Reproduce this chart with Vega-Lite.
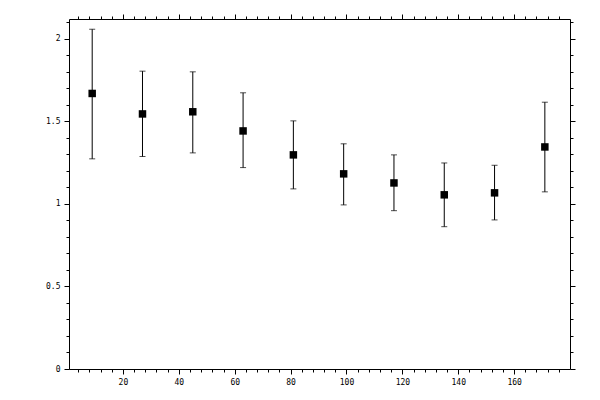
{
  "$schema": "https://vega.github.io/schema/vega-lite/v6.json",
  "width": 501,
  "height": 350,
  "autosize": "none",
  "padding": {"left": 69, "top": 19, "right": 30, "bottom": 31},
  "background": "white",
  "config": {
    "view": {"stroke": null},
    "axis": {
      "domainColor": "black",
      "domainWidth": 1,
      "tickColor": "black",
      "tickWidth": 1,
      "labelColor": "black",
      "labelFont": "DejaVu Sans Mono",
      "labelFontSize": 8,
      "labelOverlap": false,
      "labelFlush": false,
      "grid": false,
      "title": null
    }
  },
  "data": {
    "values": [
      {"x": 9, "y": 1.669, "lo": 1.273, "hi": 2.058},
      {"x": 27, "y": 1.545, "lo": 1.287, "hi": 1.804},
      {"x": 45, "y": 1.558, "lo": 1.309, "hi": 1.8},
      {"x": 63, "y": 1.442, "lo": 1.22, "hi": 1.673},
      {"x": 81, "y": 1.297, "lo": 1.091, "hi": 1.503},
      {"x": 99, "y": 1.182, "lo": 0.994, "hi": 1.364},
      {"x": 117, "y": 1.127, "lo": 0.959, "hi": 1.297},
      {"x": 135, "y": 1.055, "lo": 0.862, "hi": 1.248},
      {"x": 153, "y": 1.067, "lo": 0.903, "hi": 1.234},
      {"x": 171, "y": 1.345, "lo": 1.073, "hi": 1.616}
    ]
  },
  "layer": [
    {
      "mark": {"type": "rule", "color": "black", "strokeWidth": 1},
      "encoding": {
        "x": {
          "field": "x", "type": "quantitative",
          "scale": {"domain": [0.7, 180], "nice": false, "zero": false},
          "axis": {
            "orient": "bottom",
            "values": [4,8,12,16,20,24,28,32,36,40,44,48,52,56,60,64,68,72,76,80,84,88,92,96,100,104,108,112,116,120,124,128,132,136,140,144,148,152,156,160,164,168,172,176],
            "labelExpr": "datum.value % 20 == 0 ? format(datum.value, 'd') : ''",
            "tickSize": {"condition": {"test": "datum.value % 20 == 0", "value": 5}, "value": 3},
            "labelPadding": 4
          }
        },
        "y": {
          "field": "lo", "type": "quantitative",
          "scale": {"domain": [0, 2.12], "nice": false, "zero": false},
          "axis": {
            "orient": "left",
            "values": [0,0.1,0.2,0.3,0.4,0.5,0.6,0.7,0.8,0.9,1,1.1,1.2,1.3,1.4,1.5,1.6,1.7,1.8,1.9,2,2.1],
            "labelExpr": "abs(round(datum.value*10)) % 5 == 0 ? format(datum.value, '~g') : ''",
            "tickSize": {"condition": {"test": "abs(round(datum.value*10)) % 5 == 0", "value": 5}, "value": 3},
            "labelPadding": 4
          }
        },
        "y2": {"field": "hi"}
      }
    },
    {
      "mark": {"type": "tick", "orient": "horizontal", "size": 6, "thickness": 1, "color": "black"},
      "encoding": {
        "x": {"field": "x", "type": "quantitative", "axis": null},
        "y": {"field": "hi", "type": "quantitative", "axis": null}
      }
    },
    {
      "mark": {"type": "tick", "orient": "horizontal", "size": 6, "thickness": 1, "color": "black"},
      "encoding": {
        "x": {"field": "x", "type": "quantitative", "axis": null},
        "y": {"field": "lo", "type": "quantitative", "axis": null}
      }
    },
    {
      "mark": {"type": "point", "shape": "square", "filled": true, "size": 56, "color": "black", "opacity": 1},
      "encoding": {
        "x": {"field": "x", "type": "quantitative", "axis": null},
        "y": {"field": "y", "type": "quantitative", "axis": null}
      }
    },
    {
      "mark": {"type": "point", "opacity": 0},
      "encoding": {
        "x": {
          "field": "x", "type": "quantitative",
          "axis": {
            "orient": "top",
            "labels": false,
            "values": [4,8,12,16,20,24,28,32,36,40,44,48,52,56,60,64,68,72,76,80,84,88,92,96,100,104,108,112,116,120,124,128,132,136,140,144,148,152,156,160,164,168,172,176],
            "tickSize": {"condition": {"test": "datum.value % 20 == 0", "value": 5}, "value": 3}
          }
        },
        "y": {
          "field": "y", "type": "quantitative",
          "axis": {
            "orient": "right",
            "labels": false,
            "values": [0,0.1,0.2,0.3,0.4,0.5,0.6,0.7,0.8,0.9,1,1.1,1.2,1.3,1.4,1.5,1.6,1.7,1.8,1.9,2,2.1],
            "tickSize": {"condition": {"test": "abs(round(datum.value*10)) % 5 == 0", "value": 5}, "value": 3}
          }
        }
      }
    }
  ],
  "resolve": {"axis": {"x": "independent", "y": "independent"}}
}
